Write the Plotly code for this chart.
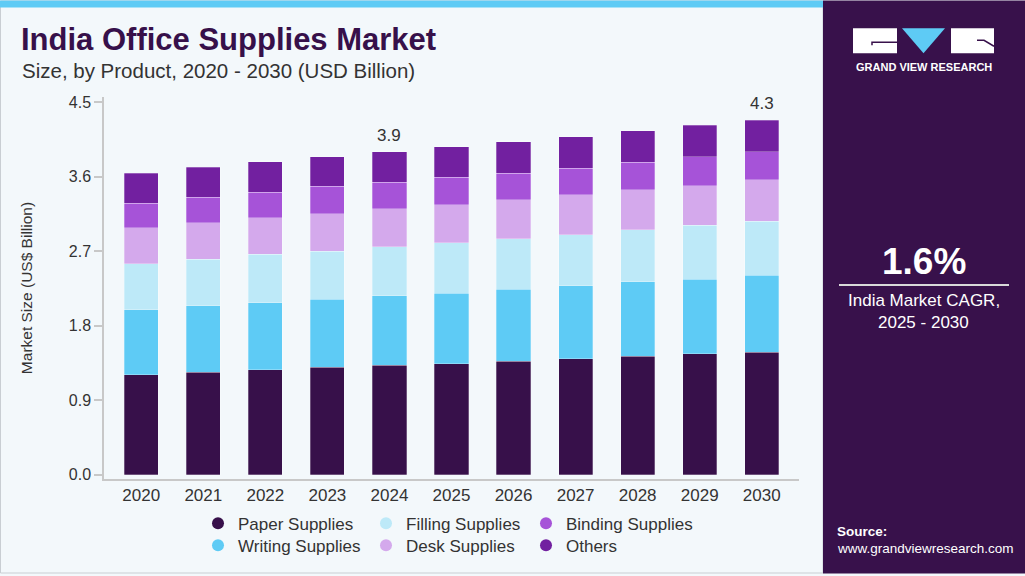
import plotly.graph_objects as go

years = ["2020", "2021", "2022", "2023", "2024", "2025", "2026", "2027", "2028", "2029", "2030"]
paper_supplies = [1.21, 1.24, 1.27, 1.30, 1.32, 1.34, 1.37, 1.40, 1.43, 1.46, 1.48]
writing_supplies = [0.78, 0.80, 0.81, 0.82, 0.84, 0.85, 0.87, 0.88, 0.90, 0.90, 0.93]
filling_supplies = [0.56, 0.56, 0.58, 0.58, 0.59, 0.61, 0.61, 0.62, 0.63, 0.65, 0.65]
desk_supplies = [0.43, 0.44, 0.44, 0.45, 0.46, 0.46, 0.47, 0.48, 0.48, 0.48, 0.50]
binding_supplies = [0.30, 0.31, 0.31, 0.33, 0.32, 0.33, 0.32, 0.32, 0.33, 0.35, 0.34]
others = [0.36, 0.36, 0.37, 0.36, 0.37, 0.37, 0.38, 0.38, 0.38, 0.38, 0.38]
labelled_years = ["2024", "2030"]
y_ticks = [0.0, 0.9, 1.8, 2.7, 3.6, 4.5]

series = [
    ("Paper Supplies", paper_supplies, "#37104a"),
    ("Writing Supplies", writing_supplies, "#5ecbf5"),
    ("Filling Supplies", filling_supplies, "#bde9f8"),
    ("Desk Supplies", desk_supplies, "#d4a9ec"),
    ("Binding Supplies", binding_supplies, "#a653d8"),
    ("Others", others, "#7220a0"),
]

FONT = "Liberation Sans, Arial, sans-serif"
W, H = 1025, 576
L, R, T, B = 104, 799, 97, 481
PW, PH = R - L, B - T


def px(x):
    return (x - L) / PW


def py(y):
    return (B - y) / PH


fig = go.Figure()
for name, vals, col in series:
    fig.add_trace(go.Bar(
        x=years, y=vals, name=name, marker_color=col,
        marker_line=dict(width=0.8, color="rgba(255,255,255,0.35)"),
        showlegend=False, hoverinfo="skip",
    ))

# legend entries (circle markers), two rows
row1 = ["Paper Supplies", "Filling Supplies", "Binding Supplies"]
row2 = ["Writing Supplies", "Desk Supplies", "Others"]
colmap = {n: c for n, _, c in series}
widths = [123, 115, 130]
for i, n in enumerate(row1):
    fig.add_trace(go.Scatter(x=[None], y=[None], mode="markers", name=n,
                             marker=dict(color=colmap[n], size=13, symbol="circle"),
                             legend="legend", legendwidth=widths[i]))
for i, n in enumerate(row2):
    fig.add_trace(go.Scatter(x=[None], y=[None], mode="markers", name=n,
                             marker=dict(color=colmap[n], size=13, symbol="circle"),
                             legend="legend2", legendwidth=widths[i]))

totals = [sum(v) for v in zip(paper_supplies, writing_supplies, filling_supplies,
                              desk_supplies, binding_supplies, others)]
annotations = []
for yr in labelled_years:
    i = years.index(yr)
    annotations.append(dict(x=i, y=totals[i], xref="x", yref="y", text=f"{totals[i]:.1f}",
                            showarrow=False, yanchor="bottom", yshift=5,
                            font=dict(size=17, color="#333333")))


def text(x, y, s, size, color, bold=False, xanchor="left"):
    annotations.append(dict(x=px(x), y=py(y), xref="paper", yref="paper",
                            text=f"<b>{s}</b>" if bold else s, showarrow=False,
                            xanchor=xanchor, yanchor="middle",
                            font=dict(size=size, color=color, family=FONT)))


text(19, 39, "India Office Supplies Market", 31, "#37104a", bold=True)
text(20, 70, "Size, by Product, 2020 - 2030 (USD Billion)", 20.5, "#333333")
text(923.5, 67, "GRAND VIEW RESEARCH", 11, "white", bold=True, xanchor="center")
text(923.5, 262, "1.6%", 37, "white", bold=True, xanchor="center")
text(923.5, 302, "India Market CAGR,", 17, "white", xanchor="center")
text(923.5, 324, "2025 - 2030", 17, "white", xanchor="center")
text(835, 534, "Source:", 13.5, "white", bold=True)
text(835, 551, "www.grandviewresearch.com", 13.5, "white")

shapes = []


def rect(x0, y0, x1, y1, fill, line=None, lw=0, layer="below"):
    shapes.append(dict(type="rect", xref="paper", yref="paper", x0=px(x0), x1=px(x1),
                       y0=py(y0), y1=py(y1), fillcolor=fill,
                       line=dict(width=lw, color=line or fill), layer=layer))


def path(pts, fill=None, color=None, width=0, close=False):
    d = "M " + " L ".join(f"{px(a):.5f},{py(b):.5f}" for a, b in pts) + (" Z" if close else "")
    shapes.append(dict(type="path", xref="paper", yref="paper", path=d,
                       fillcolor=fill if fill else "rgba(0,0,0,0)",
                       line=dict(width=width, color=color or "rgba(0,0,0,0)"), layer="above"))


rect(0.5, 0.5, 823, 575.5, "#f3f8fb", line="#c9ced3", lw=1)
rect(0, 0, 823, 7, "#5ecbf5")
rect(823, 0, 1025, 576, "#38114b")
# logo
rect(853, 28, 897, 53, "white", layer="above")
rect(951, 28, 994, 53, "white", layer="above")
path([(902, 28), (945, 28), (923.5, 53)], fill="#5ecbf5", close=True)
path([(872, 45), (872, 42), (897, 42)], color="#38114b", width=1.5)
path([(977, 40), (984, 40), (994, 46)], color="#38114b", width=1.5)
# CAGR separator line
shapes.append(dict(type="line", xref="paper", yref="paper", x0=px(839), x1=px(1009),
                   y0=py(286), y1=py(286), line=dict(color="#d9d9d9", width=2)))

fig.update_layout(
    width=W, height=H,
    margin=dict(l=L, r=W - R, t=T, b=H - B, pad=0),
    barmode="stack", bargap=0.45,
    paper_bgcolor="#f3f8fb", plot_bgcolor="rgba(0,0,0,0)",
    font=dict(family=FONT, color="#333333", size=16),
    xaxis=dict(type="category", range=[-0.6, 10.6], showgrid=False, ticks="",
               showline=True, linecolor="#c8c8c8", linewidth=1.5,
               tickfont=dict(size=17, color="#333333")),
    yaxis=dict(range=[-0.05, 4.56], tickvals=y_ticks, ticktext=[f"{v:.1f}" for v in y_ticks],
               showgrid=False, zeroline=False, showline=True, linecolor="#c8c8c8", linewidth=1.5,
               ticks="outside", ticklen=8, tickcolor="#c8c8c8", tickwidth=1.5,
               tickfont=dict(size=16, color="#333333"),
               title=dict(text="Market Size (US$ Billion)", font=dict(size=15.5, color="#333333"), standoff=32)),
    legend=dict(orientation="h", x=px(198), y=py(526), xanchor="left", yanchor="middle",
                traceorder="normal",
                bgcolor="rgba(0,0,0,0)", font=dict(size=17, color="#333333"), itemsizing="constant"),
    legend2=dict(orientation="h", x=px(198), y=py(548), xanchor="left", yanchor="middle",
                 traceorder="normal",
                 bgcolor="rgba(0,0,0,0)", font=dict(size=17, color="#333333"), itemsizing="constant"),
    annotations=annotations,
    shapes=shapes,
)

fig.write_html("out.html", config={"displayModeBar": False},
               post_script="document.body.style.margin='0';document.body.style.padding='0';")
